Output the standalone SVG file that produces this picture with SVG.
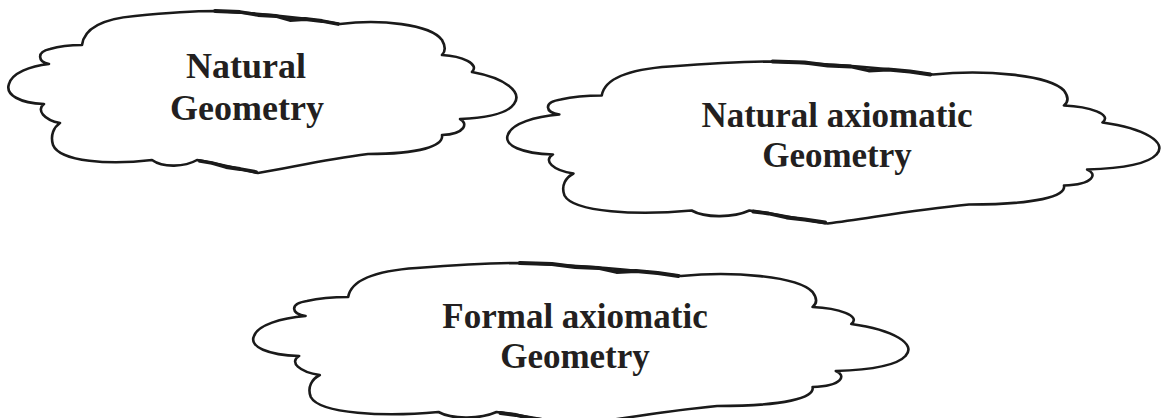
<svg xmlns="http://www.w3.org/2000/svg" width="1163" height="418" viewBox="0 0 1163 418">
<defs>
<style>
.cloud{fill:#fff;stroke:#1a1a1a;stroke-width:2.6;stroke-linejoin:round;vector-effect:non-scaling-stroke}
.thick{fill:none;stroke:#1a1a1a;stroke-width:3.8;stroke-linejoin:round;stroke-linecap:round;vector-effect:non-scaling-stroke}
.lbl{font-family:"Liberation Serif","Times New Roman",serif;font-weight:bold;fill:#231f20;text-anchor:middle}
</style>
</defs>
<rect width="1163" height="418" fill="#fff"/>
<g id="natural-geometry">
<g>
<path class="cloud" d="M82,45 C84,30 100,19 135,16 C165,13 195,11 215,11 C255,13 300,17 340,24 C380,19 430,24 442,40 C446,47 445,52 442,55 C462,56 480,64 472,72 C505,78 523,92 514,104 C507,114 485,118 460,119 C468,123 466,134 442,135 C444,146 420,154 368,154 C320,160 290,168 258,173 C235,168 215,163 197,160 C185,167 163,168 152,160 C110,165 60,162 53,145 C50,135 54,127 60,123 C44,120 36,110 44,104 C20,103 5,95 9,84 C12,73 30,66 49,64 C38,62 36,52 50,49 C60,46 72,45 82,45 Z"/>
<path class="thick" d="M215,11 L240,12 L258,15 L276,16 L290,20 L305,19 L322,21 L338,24"/>
<path class="thick" d="M256,172 L240,169 L226,167 L212,163 L200,161"/>
</g>
<text class="lbl" x="246" y="78" font-size="36">Natural</text>
<text class="lbl" x="247" y="120" font-size="36">Geometry</text>
</g>
<g id="natural-axiomatic-geometry">
<g transform="translate(508,61.5) scale(1.284,1) translate(-9,-11)">
<path class="cloud" d="M82,45 C84,30 100,19 135,16 C165,13 195,11 215,11 C255,13 300,17 340,24 C380,19 430,24 442,40 C446,47 445,52 442,55 C462,56 480,64 472,72 C505,78 523,92 514,104 C507,114 485,118 460,119 C468,123 466,134 442,135 C444,146 420,154 368,154 C320,160 290,168 258,173 C235,168 215,163 197,160 C185,167 163,168 152,160 C110,165 60,162 53,145 C50,135 54,127 60,123 C44,120 36,110 44,104 C20,103 5,95 9,84 C12,73 30,66 49,64 C38,62 36,52 50,49 C60,46 72,45 82,45 Z"/>
<path class="thick" d="M215,11 L240,12 L258,15 L276,16 L290,20 L305,19 L322,21 L338,24"/>
<path class="thick" d="M256,172 L240,169 L226,167 L212,163 L200,161"/>
</g>
<text class="lbl" x="837" y="127" font-size="35">Natural axiomatic</text>
<text class="lbl" x="837" y="167" font-size="35">Geometry</text>
</g>
<g id="formal-axiomatic-geometry">
<g transform="translate(254,263) scale(1.29,1) translate(-9,-11)">
<path class="cloud" d="M82,45 C84,30 100,19 135,16 C165,13 195,11 215,11 C255,13 300,17 340,24 C380,19 430,24 442,40 C446,47 445,52 442,55 C462,56 480,64 472,72 C505,78 523,92 514,104 C507,114 485,118 460,119 C468,123 466,134 442,135 C444,146 420,154 368,154 C320,160 290,168 258,173 C235,168 215,163 197,160 C185,167 163,168 152,160 C110,165 60,162 53,145 C50,135 54,127 60,123 C44,120 36,110 44,104 C20,103 5,95 9,84 C12,73 30,66 49,64 C38,62 36,52 50,49 C60,46 72,45 82,45 Z"/>
<path class="thick" d="M215,11 L240,12 L258,15 L276,16 L290,20 L305,19 L322,21 L338,24"/>
<path class="thick" d="M256,172 L240,169 L226,167 L212,163 L200,161"/>
</g>
<text class="lbl" x="575" y="328" font-size="35">Formal axiomatic</text>
<text class="lbl" x="575" y="368" font-size="35">Geometry</text>
</g>
<g id="connectors"/>
</svg>
